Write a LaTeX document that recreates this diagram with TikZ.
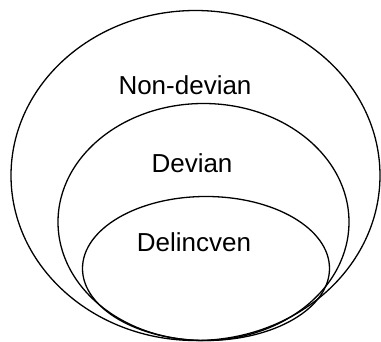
\documentclass[tikz,border=0pt]{standalone}
\usepackage{fontspec}
\setmainfont{Liberation Sans}
\usetikzlibrary{shapes.geometric}
\begin{document}
\begin{tikzpicture}[x=1pt,y=-1pt,
  ring/.style={ellipse, draw=black, line width=1.3pt, inner sep=0pt, minimum width=#1},
  lab/.style={anchor=base, inner sep=0pt, font=\fontsize{26}{30}\selectfont}]
\useasboundingbox (0,0) rectangle (381,342);
\node[ring=369pt, minimum height=330pt] (outer) at (195.5,175.5) {};
\node[ring=291pt, minimum height=237pt] (middle) at (203.5,222) {};
\node[ring=247pt, minimum height=144pt] (inner) at (206,268.5) {};
\node[lab] (nondev) at (185,95) {Non-devian};
\node[lab] (dev) at (192,173) {Devian};
\node[lab] (delin) at (194,252) {Delincven};
\end{tikzpicture}
\end{document}
